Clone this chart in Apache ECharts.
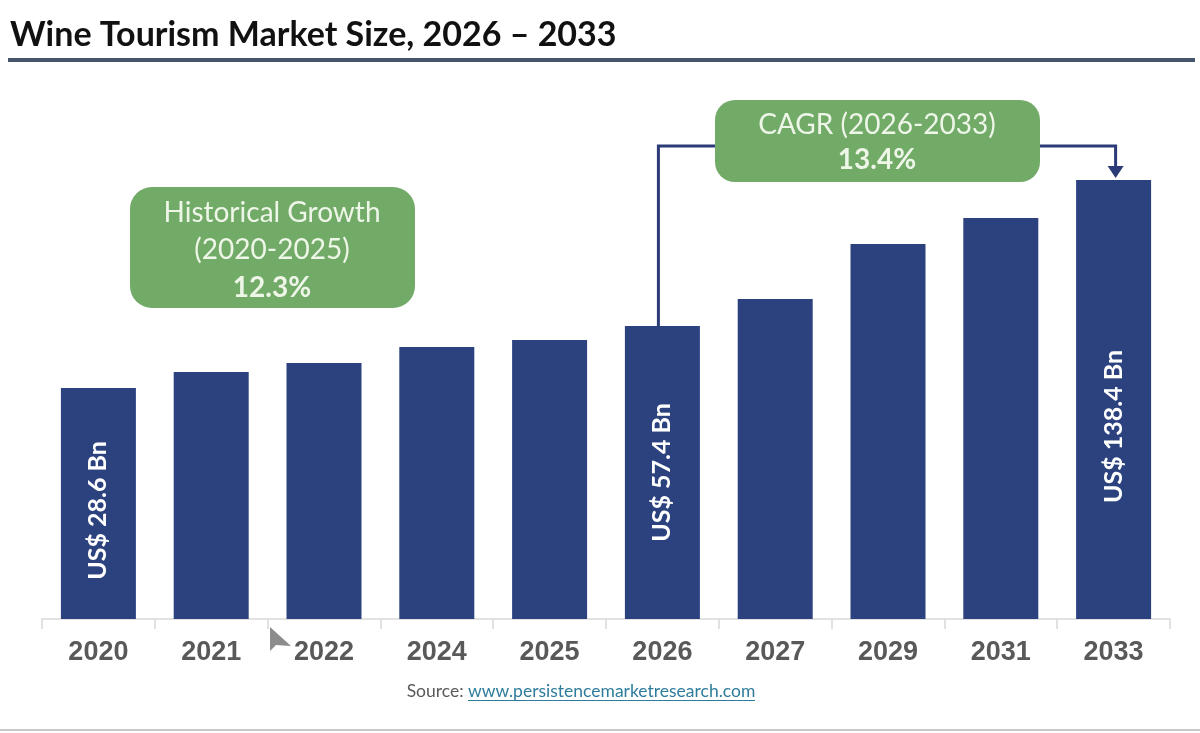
<!DOCTYPE html>
<html>
<head>
<meta charset="utf-8">
<title>Wine Tourism Market Size</title>
<style>
  html, body { margin: 0; padding: 0; background: #fff; }
  #main { width: 1200px; height: 733px; }
</style>
</head>
<body>
<div id="main"></div>
<script src="https://cdn.jsdelivr.net/npm/echarts@6/dist/echarts.min.js"></script>
<script>
// categories on the x axis
var years = ['2020', '2021', '2022', '2024', '2025', '2026', '2027', '2029', '2031', '2033'];
// bar heights as drawn in the picture (relative units, the bars are not to scale with the labels)
var barHeights = [231, 247, 256, 272, 279, 293, 320, 375, 401, 439];
// value labels printed inside some bars
var barLabels = ['US$ 28.6 Bn', '', '', '', '', 'US$ 57.4 Bn', '', '', '', 'US$ 138.4 Bn'];
// callout texts
var histText = ['Historical Growth', '(2020-2025)', '12.3%'];
var cagrText = ['CAGR (2026-2033)', '13.4%'];

var barColor = '#2B427E';
var boxColor = '#72AA68';
var boxText = '#EEF6E8';

var chartDom = document.getElementById('main');
var myChart = echarts.init(chartDom);

// small nudges so the rotated labels sit where they do in the picture
// (offset works in the rotated frame: negative x moves the text down)
var labelOffsets = [[-7, 0], null, null, null, null, [0, 0], null, null, null, [-27, 0]];

var option = {
  animation: false,
  backgroundColor: '#fff',
  grid: { left: 42, right: 30, top: 99, bottom: 114 },
  xAxis: {
    type: 'category',
    data: years,
    axisLine: { lineStyle: { color: '#D9D9D9', width: 1.5 } },
    axisTick: { show: true, length: 10, lineStyle: { color: '#D9D9D9', width: 1.5 } },
    axisLabel: {
      color: '#595959', fontFamily: 'Liberation Sans', fontWeight: 'bold',
      fontSize: 27, margin: 20
    }
  },
  yAxis: {
    type: 'value', min: 0, max: 520,
    show: false, splitLine: { show: false }
  },
  series: [{
    type: 'bar',
    barWidth: 75,
    itemStyle: { color: barColor },
    data: barHeights.map(function (v, i) {
      return {
        value: v,
        label: {
          show: barLabels[i] !== '',
          formatter: barLabels[i],
          offset: labelOffsets[i] || [0, 0]
        }
      };
    }),
    label: {
      position: 'inside',
      rotate: 90,
      color: '#fff',
      fontFamily: 'Lato',
      fontWeight: 'bold',
      fontSize: 25
    }
  }]
};

myChart.setOption(option);

// connector positions taken from the bars themselves
var p2026 = myChart.convertToPixel({ seriesIndex: 0 }, ['2026', barHeights[5]]);
var p2033 = myChart.convertToPixel({ seriesIndex: 0 }, ['2033', barHeights[9]]);
var lineY = 146;
var lineColor = '#2B3B78';

myChart.setOption({
  graphic: [
    // title
    { type: 'text', left: 10, top: 18, z: 10,
      style: { text: 'Wine Tourism Market Size, 2026 \u2013 2033', fill: '#111',
        font: 'bold 34px Lato' } },
    { type: 'rect', left: 8, top: 58, z: 10,
      shape: { width: 1187, height: 4 }, style: { fill: '#44546A' } },
    // left connector 2026 -> CAGR box
    { type: 'polyline', z: 5,
      shape: { points: [[p2026[0] - 4, p2026[1]], [p2026[0] - 4, lineY], [877, lineY]] },
      style: { stroke: lineColor, lineWidth: 3, fill: null } },
    // right connector CAGR box -> 2033 with arrow
    { type: 'polyline', z: 5,
      shape: { points: [[877, lineY], [p2033[0] + 2, lineY], [p2033[0] + 2, p2033[1] - 12]] },
      style: { stroke: lineColor, lineWidth: 3, fill: null } },
    { type: 'polygon', z: 5,
      shape: { points: [[p2033[0] - 6, p2033[1] - 14], [p2033[0] + 10, p2033[1] - 14], [p2033[0] + 2, p2033[1] - 2]] },
      style: { fill: lineColor } },
    // historical growth box
    { type: 'rect', left: 130, top: 187, z: 8,
      shape: { width: 285, height: 121, r: 22 }, style: { fill: boxColor } },
    { type: 'text', x: 272, y: 213, z: 9,
      style: { text: histText[0], fill: boxText, font: '28px Lato', align: 'center', verticalAlign: 'middle' } },
    { type: 'text', x: 272, y: 250, z: 9,
      style: { text: histText[1], fill: boxText, font: '28px Lato', align: 'center', verticalAlign: 'middle' } },
    { type: 'text', x: 272, y: 288, z: 9,
      style: { text: histText[2], fill: boxText, font: 'bold 28px Lato', align: 'center', verticalAlign: 'middle' } },
    // CAGR box
    { type: 'rect', left: 715, top: 100, z: 8,
      shape: { width: 325, height: 82, r: 20 }, style: { fill: boxColor } },
    { type: 'text', x: 877, y: 125, z: 9,
      style: { text: cagrText[0], fill: boxText, font: '28px Lato', align: 'center', verticalAlign: 'middle' } },
    { type: 'text', x: 877, y: 160, z: 9,
      style: { text: cagrText[1], fill: boxText, font: 'bold 28px Lato', align: 'center', verticalAlign: 'middle' } },
    // source line
    { type: 'text', x: 581, y: 691, z: 9,
      style: {
        text: '{a|Source: }{b|www.persistencemarketresearch.com}',
        align: 'center', verticalAlign: 'middle',
        rich: {
          a: { fill: '#595959', font: '17.5px Lato' },
          b: { fill: '#2E7C9C', font: '17.5px Lato' }
        }
      } },
    { type: 'rect', left: 468, top: 700, z: 9,
      shape: { width: 287, height: 1 }, style: { fill: '#2E7C9C' } },
    { type: 'rect', left: 0, top: 729, z: 9,
      shape: { width: 1200, height: 2 }, style: { fill: '#C8C8C8' } },
    // mouse pointer captured in the screenshot
    { type: 'polygon', z: 9,
      shape: { points: [[270, 627], [270, 651], [276, 645], [291, 646]] },
      style: { fill: '#8C8C8C' } }
  ]
});
</script>
</body>
</html>
